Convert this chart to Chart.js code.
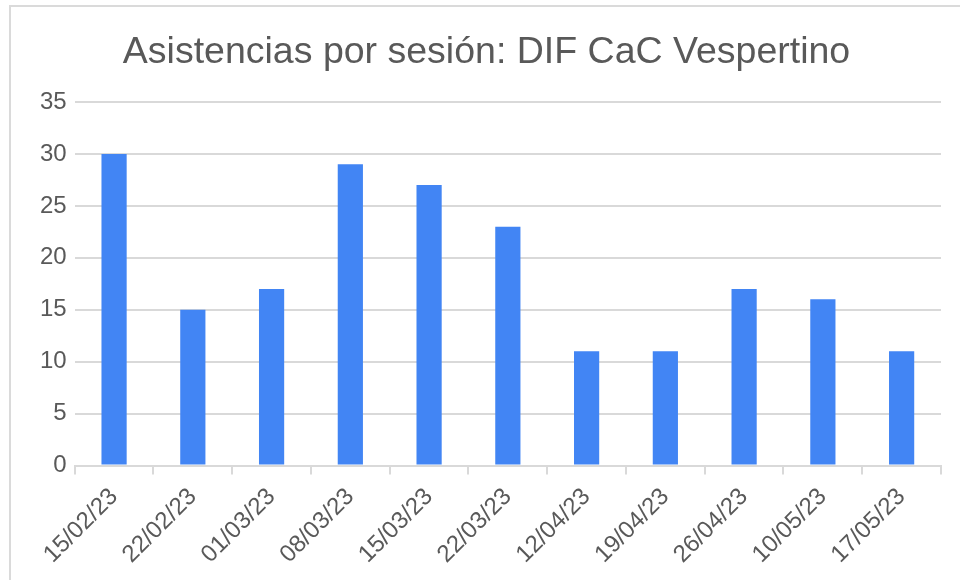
<!DOCTYPE html>
<html>
<head>
<meta charset="utf-8">
<script src="https://cdn.jsdelivr.net/npm/chart.js@4/dist/chart.umd.min.js"></script>
<style>
  html, body { margin: 0; padding: 0; background: #fff; }
  #wrap { position: relative; width: 960px; height: 580px; overflow: hidden; }
  #c { position: absolute; left: 0; top: 0; }
  .bt { position: absolute; left: 9px; top: 5px; width: 951px; height: 2px; background: #dadada; }
  .bl { position: absolute; left: 9px; top: 5px; width: 2px; height: 575px; background: #dadada; }
</style>
</head>
<body>
<div id="wrap">
  <canvas id="c" width="960" height="580"></canvas>
  <div class="bt"></div>
  <div class="bl"></div>
</div>
<script>
const chartTitle = "Asistencias por sesión: DIF CaC Vespertino";
const categories = ["15/02/23", "22/02/23", "01/03/23", "08/03/23", "15/03/23", "22/03/23", "12/04/23", "19/04/23", "26/04/23", "10/05/23", "17/05/23"];
const asistencias = [30, 15, 17, 29, 27, 23, 11, 11, 17, 16, 11];
const yTicks = [0, 5, 10, 15, 20, 25, 30, 35];

const FONT = "'Liberation Sans', Arial, sans-serif";
const TEXT = "#595959";
const GRID = "#d9d9d9";

new Chart(document.getElementById("c"), {
  type: "bar",
  data: {
    labels: categories,
    datasets: [{
      data: asistencias,
      backgroundColor: "#4285F4",
      borderWidth: 0,
      categoryPercentage: 1,
      barPercentage: 0.32
    }]
  },
  options: {
    responsive: false,
    animation: false,
    devicePixelRatio: 1,
    layout: { padding: { top: 30, left: 32, right: 19, bottom: 3 } },
    plugins: {
      legend: { display: false },
      tooltip: { enabled: false },
      title: {
        display: true,
        text: chartTitle,
        color: TEXT,
        font: { family: FONT, size: 37.5, weight: "normal" },
        padding: { top: 0, bottom: 27 }
      }
    },
    scales: {
      x: {
        offset: true,
        grid: { display: true, drawOnChartArea: false, drawTicks: true, tickLength: 9, color: GRID, lineWidth: 2, offset: true },
        border: { display: true, color: GRID, width: 2 },
        ticks: { minRotation: 45, maxRotation: 45, autoSkip: false, color: TEXT, padding: 8, font: { family: FONT, size: 24 } }
      },
      y: {
        min: yTicks[0],
        max: yTicks[yTicks.length - 1],
        afterBuildTicks: (axis) => { axis.ticks = yTicks.map(v => ({ value: v })); },
        grid: { color: GRID, lineWidth: 2, drawTicks: false },
        border: { display: false },
        ticks: { color: TEXT, padding: 8, font: { family: FONT, size: 24 } }
      }
    }
  }
});
</script>
</body>
</html>
